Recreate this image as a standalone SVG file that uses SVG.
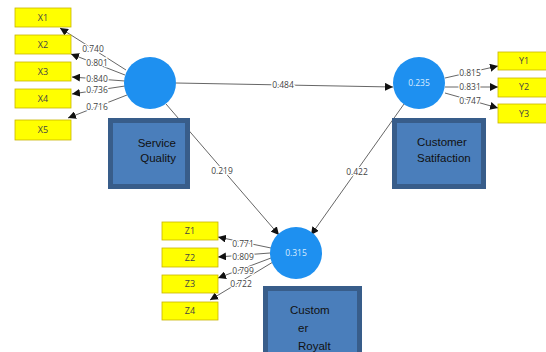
<svg xmlns="http://www.w3.org/2000/svg" width="546" height="352" viewBox="0 0 546 352">
  <style>
    .ind { fill: #ffff00; stroke: #c8b400; stroke-width: 0.8; }
    .ind-t { font-family: "Open Sans", "Liberation Sans", sans-serif; font-size: 9px; fill: #444; text-anchor: middle; }
    .lv { fill: #1e90f0; }
    .lv-t { font-family: "Open Sans", "Liberation Sans", sans-serif; font-size: 8.5px; fill: #d8ecff; text-anchor: middle; }
    .lbl { fill: #4a7ebb; stroke: #385d8a; stroke-width: 5; }
    .lbl-t { font-family: "Liberation Sans", "Open Sans", sans-serif; font-size: 11.5px; fill: #111; }
    .edge { stroke: #555; stroke-width: 0.9; fill: none; marker-end: url(#ah); }
    .w { font-family: "Open Sans", "Liberation Sans", sans-serif; font-size: 8.5px; fill: #444; text-anchor: middle; stroke: #fff; stroke-width: 2.5; paint-order: stroke; }
  </style>
  <defs>
    <marker id="ah" viewBox="0 0 10 10" refX="10" refY="5" markerWidth="8" markerHeight="8" markerUnits="userSpaceOnUse" orient="auto">
      <path d="M0,0 L10,5 L0,10 z" fill="#111"/>
    </marker>
  </defs>
  <rect width="546" height="352" fill="#fff"/>

  <!-- connectors -->
  <g id="connectors">
    <line class="edge" x1="126" y1="70" x2="60" y2="28"/>
    <line class="edge" x1="125" y1="75" x2="71" y2="54"/>
    <line class="edge" x1="125" y1="81" x2="72" y2="77"/>
    <line class="edge" x1="125" y1="86" x2="72" y2="94"/>
    <line class="edge" x1="127" y1="95" x2="68" y2="118"/>
    <line class="edge" x1="176" y1="83" x2="393" y2="87"/>
    <line class="edge" x1="166" y1="104" x2="279" y2="235"/>
    <line class="edge" x1="404" y1="104" x2="311" y2="235"/>
    <line class="edge" x1="445" y1="78" x2="498" y2="66"/>
    <line class="edge" x1="445" y1="87" x2="498" y2="87"/>
    <line class="edge" x1="445" y1="93" x2="498" y2="108"/>
    <line class="edge" x1="271" y1="248" x2="218" y2="237"/>
    <line class="edge" x1="270" y1="253" x2="218" y2="257"/>
    <line class="edge" x1="271" y1="258" x2="218" y2="278"/>
    <line class="edge" x1="273" y1="262" x2="210" y2="300"/>
    <text class="w" x="93" y="52">0.740</text>
    <text class="w" x="97" y="66">0.801</text>
    <text class="w" x="97" y="82">0.840</text>
    <text class="w" x="97" y="93">0.736</text>
    <text class="w" x="97" y="110">0.716</text>
    <text class="w" x="283" y="88">0.484</text>
    <text class="w" x="222" y="174">0.219</text>
    <text class="w" x="357" y="175">0.422</text>
    <text class="w" x="470" y="76">0.815</text>
    <text class="w" x="470" y="90">0.831</text>
    <text class="w" x="470" y="104">0.747</text>
    <text class="w" x="243" y="247">0.771</text>
    <text class="w" x="243" y="260">0.809</text>
    <text class="w" x="243" y="274">0.799</text>
    <text class="w" x="241" y="287">0.722</text>
  </g>

  <!-- indicators -->
  <g id="X1"><rect class="ind" x="15" y="8" width="56" height="19"/><text class="ind-t" x="43" y="21">X1</text></g>
  <g id="X2"><rect class="ind" x="15" y="35" width="56" height="19"/><text class="ind-t" x="43" y="48">X2</text></g>
  <g id="X3"><rect class="ind" x="15" y="62" width="56" height="19"/><text class="ind-t" x="43" y="75">X3</text></g>
  <g id="X4"><rect class="ind" x="15" y="89" width="56" height="19"/><text class="ind-t" x="43" y="102">X4</text></g>
  <g id="X5"><rect class="ind" x="15" y="120" width="56" height="20"/><text class="ind-t" x="43" y="133">X5</text></g>

  <g id="Y1"><rect class="ind" x="498" y="52" width="52" height="18"/><text class="ind-t" x="524" y="64">Y1</text></g>
  <g id="Y2"><rect class="ind" x="498" y="78" width="52" height="19"/><text class="ind-t" x="524" y="90">Y2</text></g>
  <g id="Y3"><rect class="ind" x="498" y="104" width="52" height="19"/><text class="ind-t" x="524" y="117">Y3</text></g>

  <g id="Z1"><rect class="ind" x="162" y="222" width="56" height="18"/><text class="ind-t" x="190" y="234">Z1</text></g>
  <g id="Z2"><rect class="ind" x="162" y="248" width="56" height="19"/><text class="ind-t" x="190" y="261">Z2</text></g>
  <g id="Z3"><rect class="ind" x="162" y="275" width="56" height="18"/><text class="ind-t" x="190" y="287">Z3</text></g>
  <g id="Z4"><rect class="ind" x="162" y="302" width="56" height="18"/><text class="ind-t" x="190" y="314">Z4</text></g>

  <!-- latent variables -->
  <g id="ServiceQuality">
    <circle class="lv" cx="150" cy="83" r="26"/>
    <rect class="lbl" x="110.5" y="120.5" width="77" height="66"/>
    <text class="lbl-t" x="176" y="147" text-anchor="end">Service</text>
    <text class="lbl-t" x="176" y="162" text-anchor="end">Quality</text>
  </g>
  <g id="CustomerSatisfaction">
    <circle class="lv" cx="419" cy="83" r="26"/>
    <text class="lv-t" x="419" y="86">0.235</text>
    <rect class="lbl" x="394.5" y="120.5" width="89" height="66"/>
    <text class="lbl-t" x="417" y="146">Customer</text>
    <text class="lbl-t" x="417" y="162">Satifaction</text>
  </g>
  <g id="CustomerLoyalty">
    <circle class="lv" cx="296" cy="253" r="26"/>
    <text class="lv-t" x="296" y="256">0.315</text>
    <rect class="lbl" x="265.5" y="288.5" width="94" height="66"/>
    <text class="lbl-t" x="290" y="314">Custom</text>
    <text class="lbl-t" x="298" y="332">er</text>
    <text class="lbl-t" x="298" y="350">Royalt</text>
  </g>
</svg>
